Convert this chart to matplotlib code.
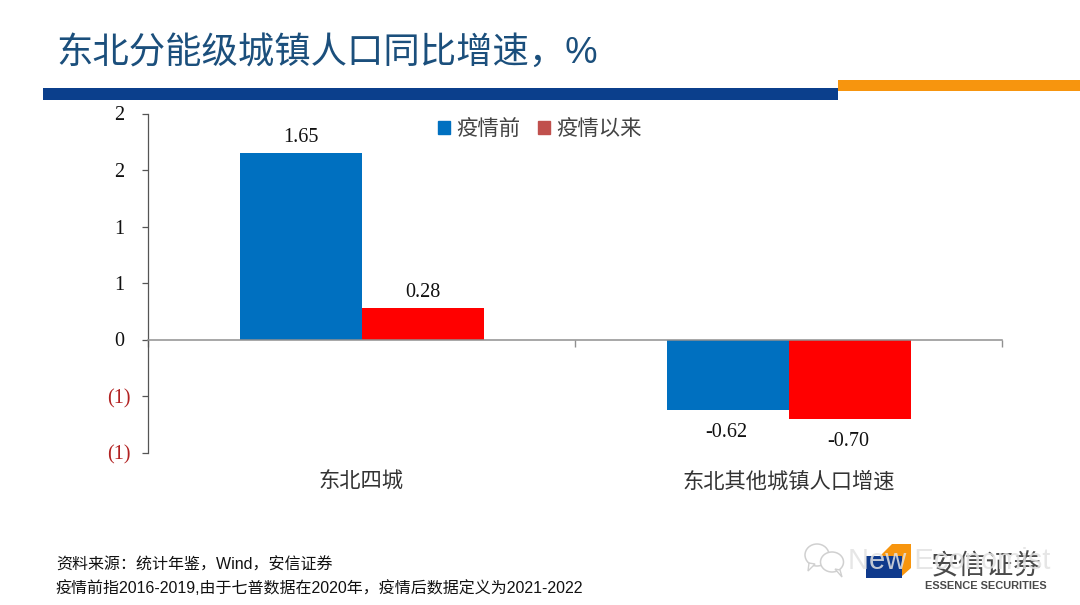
"""
东北分能级城镇人口同比增速 - bar chart slide
"""
import numpy as np
import matplotlib
matplotlib.use("Agg")
import matplotlib.pyplot as plt
from matplotlib.patches import Rectangle, Polygon, Ellipse

plt.rcParams['font.family'] = ['Noto Sans CJK SC', 'DejaVu Sans']

# Data
categories = ['东北四城', '东北其他城镇人口增速']
before = [1.65, -0.62]
after = [0.28, -0.70]
series_names = ['疫情前', '疫情以来']
y_ticks = [2, 1.5, 1, 0.5, 0, -0.5, -1]
y_tick_labels = ['2', '2', '1', '1', '0', '(1)', '(1)']

BLUE = '#0070C0'
RED = '#FF0000'
SERIF = ['Liberation Serif', 'DejaVu Serif']
SANS_CJK = ['Liberation Sans', 'Noto Sans CJK SC']
W, H = 1080, 605


def fig_rect(fig, x0, y0, x1, y1, color, zorder=1):
    """Rectangle en pixels de l'image (origine en haut à gauche)"""
    fig.patches.append(Rectangle((x0 / W, 1 - y1 / H), (x1 - x0) / W, (y1 - y0) / H,
                                 transform=fig.transFigure, color=color, lw=0, zorder=zorder))


def fig_text(fig, x, y, s, **kw):
    return fig.text(x / W, 1 - y / H, s, **kw)


def bubble(fig, cx, cy, w, h, tail):
    """Bulle du filigrane : ellipse + petite queue"""
    fig.patches.append(Ellipse((cx / W, 1 - cy / H), w / W, h / H, transform=fig.transFigure,
                               fc='white', ec='#D0D0D0', lw=1.1, zorder=6))
    pts = [(cx + tail[0], cy + h / 2 - 3), (cx + tail[1], cy + h / 2 + 5), (cx + tail[2], cy + h / 2 - 2)]
    fig.patches.append(Polygon([(a / W, 1 - b / H) for a, b in pts], closed=True,
                               transform=fig.transFigure, fc='white', ec='#D0D0D0', lw=1.0, zorder=6))


fig = plt.figure(figsize=(10.8, 6.05), dpi=100)
ax = fig.add_axes([148 / W, 1 - 452.5 / H, (1002 - 148) / W, 339 / H])

# Bars
x = np.arange(len(categories)) + 0.5
width = 122 / 427
bars1 = ax.bar(x - width / 2, before, width, color=BLUE, zorder=2)
bars2 = ax.bar(x + width / 2, after, width, color=RED, zorder=2)
ax.set_xlim(0, 2)
ax.set_ylim(-1, 2)

for bars, vals in ((bars1, before), (bars2, after)):
    for b, v in zip(bars, vals):
        off = 6 if v >= 0 else -13
        ax.annotate(f'{v:.2f}', (b.get_x() + b.get_width() / 2, v), xytext=(-1 if v < 0 else 0, off),
                    textcoords='offset pixels', ha='center',
                    va='bottom' if v >= 0 else 'top', fontsize=14.5,
                    family=SERIF, color='#111111')

# Axes
for s in ('top', 'right'):
    ax.spines[s].set_visible(False)
ax.spines['bottom'].set_position(('data', 0))
ax.spines['left'].set_color('#555555')
ax.spines['bottom'].set_color('#909090')
ax.spines['left'].set_linewidth(0.9)
ax.spines['bottom'].set_linewidth(1.1)
ax.set_yticks(y_ticks)
ax.set_yticklabels(y_tick_labels, family=SERIF, fontsize=14.5, ha='center')
ax.tick_params(axis='y', length=4, width=0.9, color='#555555', pad=17)
for lab, v in zip(ax.get_yticklabels(), y_ticks):
    lab.set_color('#B22222' if v < 0 else '#111111')
ax.set_xticks([0, 1, 2])
ax.set_xticklabels([])
ax.tick_params(axis='x', length=5, width=1, color='#909090', direction='out')

# Category labels, below the plot
for xc, cat in zip(x, categories):
    ax.annotate(cat, (xc, -1), xytext=(0, -29), textcoords='offset pixels',
                ha='center', va='center', fontsize=15.3, color='#333333')

# Legend
handles = [Rectangle((0, 0), 1, 1, color=BLUE), Rectangle((0, 0), 1, 1, color='#C0504D')]
ax.legend(handles, series_names, loc='center', bbox_to_anchor=(540 / W, 1 - 129 / H),
          bbox_transform=fig.transFigure, ncol=2, frameon=False, fontsize=15.4,
          handlelength=0.55, handleheight=0.55, handletextpad=0.3, columnspacing=0.8,
          labelcolor='#444444')

# Slide header
fig_text(fig, 56, 53, '东北分能级城镇人口同比增速，%', fontsize=26.2, color='#1B4F7C', va='center',
         family=SANS_CJK)
fig_rect(fig, 43, 88, 838, 100, '#0B3F8C')
fig_rect(fig, 838, 80, 1080, 91, '#F7950E')

# Footer
fig_text(fig, 56, 565, '资料来源：统计年鉴，Wind，安信证券', fontsize=11.5, color='#111111',
         va='center', family=SANS_CJK)
fig_text(fig, 56, 588, '疫情前指2016-2019,由于七普数据在2020年，疫情后数据定义为2021-2022',
         fontsize=11.5, color='#111111', va='center', family=SANS_CJK)

# Logo
fig.patches.append(Polygon([(880 / W, 1 - 556 / H), (892 / W, 1 - 544 / H), (911 / W, 1 - 544 / H),
                            (911 / W, 1 - 568 / H), (902 / W, 1 - 576 / H), (902 / W, 1 - 556 / H)],
                           closed=True, transform=fig.transFigure, color='#F7950E', lw=0, zorder=1))
fig_rect(fig, 866, 556, 902, 578, '#0F3A8C', zorder=2)
fig_text(fig, 986, 566, '安信证券', fontsize=20, color='#4A4A4A', ha='center', va='center', zorder=3)
fig_text(fig, 986, 586, 'ESSENCE SECURITIES', fontsize=7.9, color='#4A4A4A', ha='center',
         va='center', weight='bold', family=['Liberation Sans', 'DejaVu Sans'], zorder=3)

# Watermark
fig_text(fig, 949, 561, 'New Economist', fontsize=21, color='#E2E2E2', alpha=0.85, ha='center',
         va='center', family=['Liberation Sans', 'DejaVu Sans'], zorder=7)
bubble(fig, 817, 555, 24, 22, (-8, -9, -2))
bubble(fig, 832, 562, 23, 20, (3, 10, 8))

fig.savefig('out.png', dpi=100)
